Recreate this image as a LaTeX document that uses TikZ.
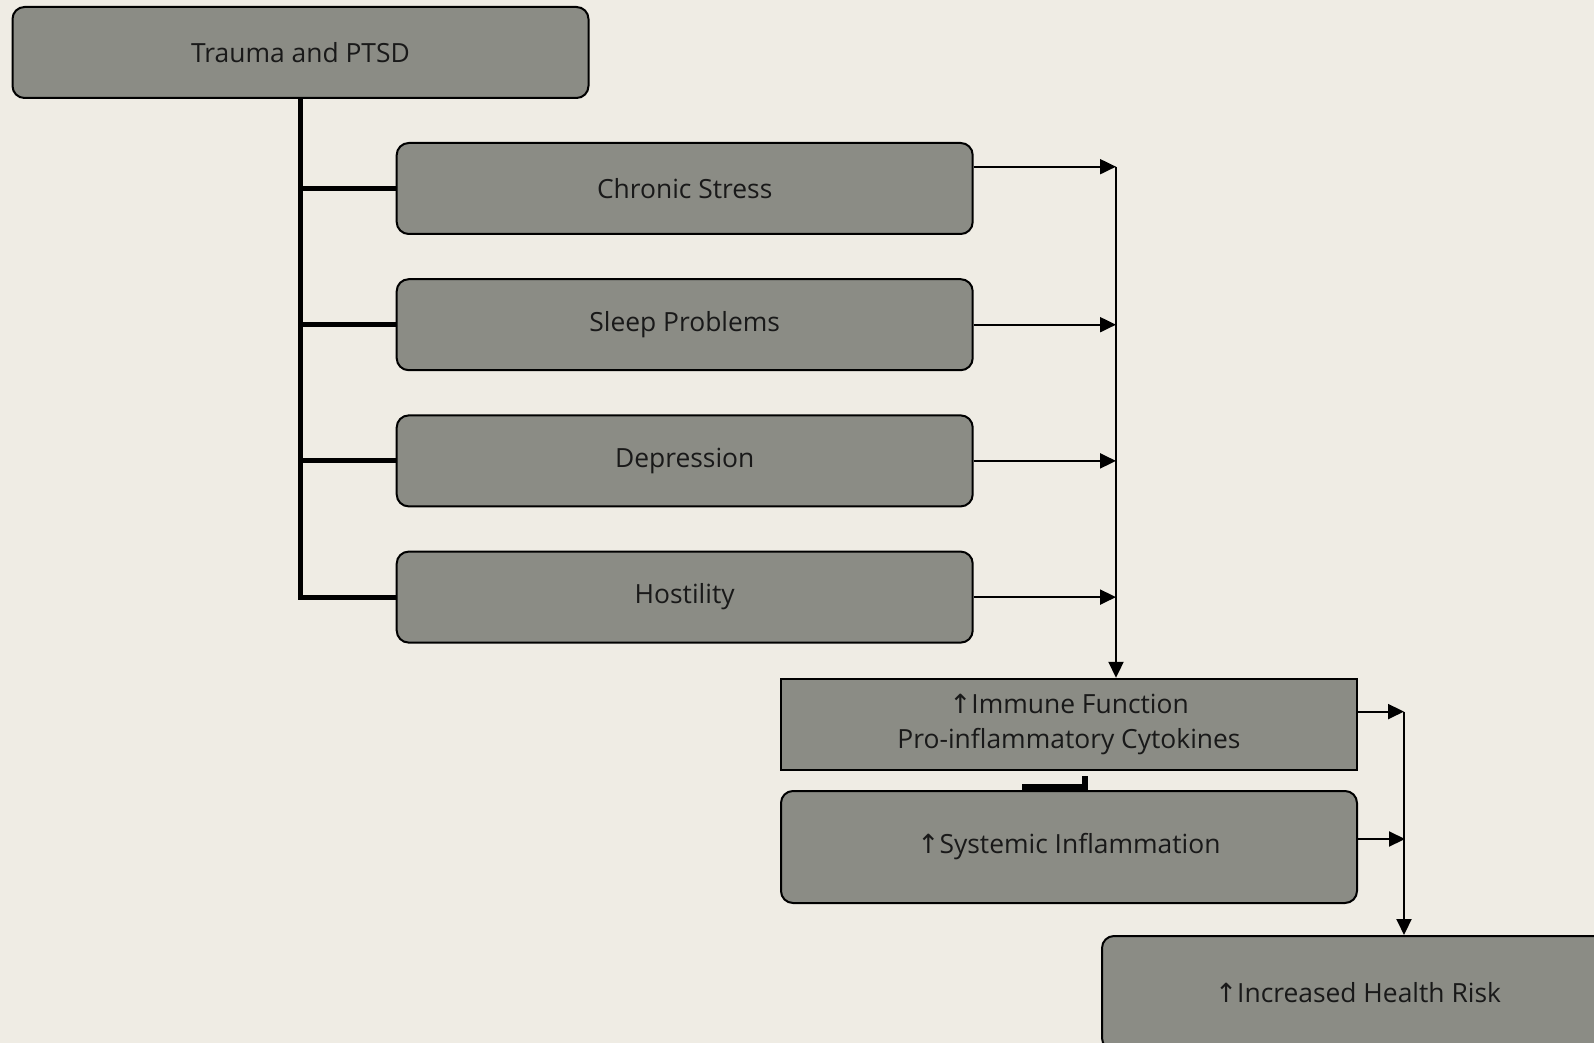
\documentclass[tikz,border=0pt]{standalone}
\usepackage{fontspec}
\setmainfont{Open Sans}
\newfontfamily\arrowfont{DejaVu Sans}
\usetikzlibrary{arrows.meta,positioning}
\definecolor{paper}{RGB}{239,236,228}
\definecolor{boxgrey}{RGB}{139,140,133}
\newcommand{\upmark}{{\arrowfont\symbol{"2191}}}

\begin{document}
\begin{tikzpicture}[x=0.5pt,y=-0.5pt,
  box/.style={draw=black,line width=1pt,fill=boxgrey,rounded corners=6pt,
    minimum width=288pt,minimum height=45.5pt,inner sep=0pt,text=black!90,
    font=\fontsize{13.2}{17.3}\selectfont,align=center},
  bus/.style={line width=2.5pt},
  arr/.style={line width=1pt,-{Triangle[length=8pt,width=7.5pt]}},
  node distance=21.6pt]
\fill[paper] (0,0) rectangle (1594,1043);
\clip (0,0) rectangle (1594,1043);

\node[box] (trauma) at (300.5,52.5) {Trauma and PTSD};
\node[box] (chronic) at (684.7,188.5) {Chronic Stress};
\node[box,below=of chronic] (sleep) {Sleep Problems};
\node[box,below=of sleep] (depr) {Depression};
\node[box,below=of depr] (host) {Hostility};
\node[box,sharp corners] (immune) at (1069,724.3) {\upmark Immune Function\\Pro-inflammatory Cytokines};
\node[box,minimum height=56pt] (systemic) at (1069,847) {\upmark Systemic Inflammation};
\node[box,minimum width=256pt,minimum height=57pt,anchor=north west] (health) at (1101,935) {\upmark Increased Health Risk};

% left bus
\draw[bus] (trauma.south) |- (host.west);
\foreach \n in {chronic,sleep,depr}
  \draw[bus] (trauma.south |- \n.west) -- (\n.west);

% right buses
\coordinate (rbus) at (1116,166.7);
\draw[arr] (chronic.east |- rbus) -- (rbus);
\foreach \n in {sleep,depr,host}
  \draw[arr] (\n.east) -- (\n.east -| rbus);
\draw[arr] (rbus) -- (rbus |- immune.north);

\coordinate (rbus2) at (1404,711.6);
\draw[arr] (immune.east |- rbus2) -- (rbus2);
\draw[arr] ([yshift=4pt]systemic.east) -- ++(23.5pt,0pt);
\draw[arr] (rbus2) -- (rbus2 |- health.north);

\draw[line width=3pt] ([xshift=8pt,yshift=-2.7pt]immune.south) -- ++(0pt,-5.5pt) -- ++(-31.5pt,0pt);
\end{tikzpicture}
\end{document}
